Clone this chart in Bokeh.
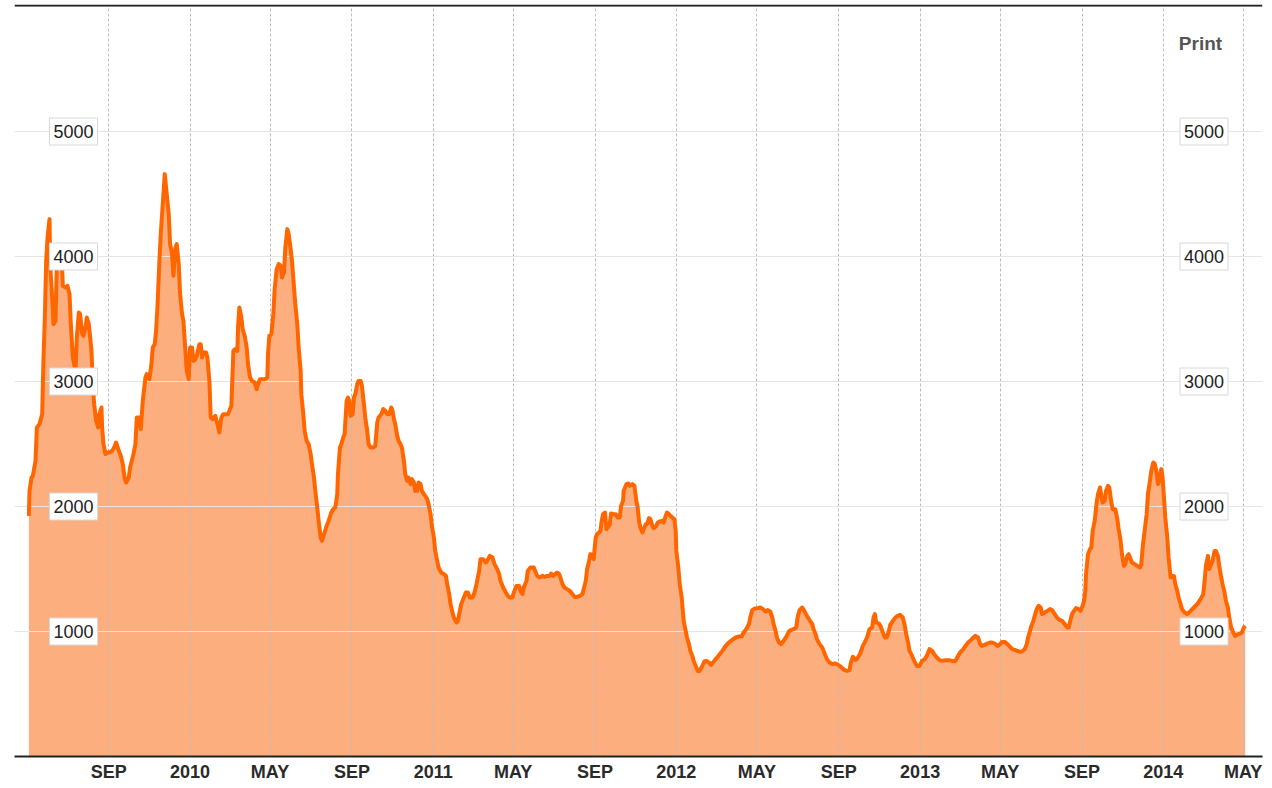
import pandas as pd
from datetime import timedelta
from bokeh.plotting import figure
from bokeh.models import Range1d, FixedTicker, Label, Span
from bokeh.embed import file_html
from bokeh.resources import INLINE

# ---------------- data ----------------
BASE_DATE = "2009-09-01"   # day offsets below count from this date

day_offsets = [
    -120, -119, -116, -114, -110, -108, -104, -100, -99, -98, -96, -94, -92, -89, -88, -85, -83, -80, -78, -75,
    -74, -70, -69, -65, -62, -59, -57, -54, -50, -48, -45, -43, -40, -38, -35, -33, -30, -28, -26, -24,
    -22, -19, -16, -14, -11, -10, -8, -5, -2, 1, 5, 8, 11, 15, 18, 21, 24, 26, 30, 32,
    37, 40, 42, 46, 48, 51, 55, 57, 61, 64, 66, 69, 71, 73, 76, 78, 81, 84, 86, 90,
    92, 95, 97, 100, 102, 105, 107, 110, 112, 115, 117, 120, 122, 125, 127, 130, 132, 136, 138, 140,
    142, 146, 148, 151, 153, 156, 160, 163, 166, 169, 172, 177,
    179, 182, 184, 187, 190, 193, 194, 196, 199, 201, 204, 207, 209, 212, 215, 219, 222, 224, 227, 230,
    234, 238, 239, 241, 244, 247, 249, 252, 255, 258, 260, 263, 265, 268, 270, 273, 275, 278, 280, 283,
    285, 288, 289, 292, 294, 297, 300, 303, 305, 308, 310, 313, 315, 318, 320, 324, 327, 330, 334, 337,
    340, 343, 344, 347, 349, 352, 354, 357, 359, 361, 363, 366, 368, 370, 373, 375, 378, 380, 383, 385,
    388, 390, 393, 397, 400, 403, 405, 409, 412, 415, 418, 421, 424, 426, 428, 430, 433, 435, 438, 440,
    443, 445, 448, 450, 453, 455, 458, 460, 463, 465, 468, 470, 473, 475, 478, 480, 483, 485, 488, 490,
    493, 495,
    499, 503, 506, 508, 511, 513, 516, 518, 522, 524, 527, 529, 532, 536, 539, 542, 546, 549, 552, 556,
    558, 562, 566, 568, 572, 576, 579, 583, 586, 588, 592, 596, 599, 602, 606, 608, 612, 616, 618, 621,
    623, 627, 629, 633, 638, 641, 643, 647, 651, 654, 658, 662, 664, 667, 670, 673, 676, 678, 681, 684,
    688, 692, 696, 699, 703, 707, 711, 713, 716, 718, 721, 723, 726, 728, 729, 731, 733, 736, 738, 740,
    742, 745, 747, 749, 752, 754, 757, 761, 764, 767, 769, 772, 773, 777, 780, 782, 786, 789, 792, 794,
    796, 798, 801, 803, 806, 808, 811, 813, 816, 818, 822, 824, 827, 831, 833, 836, 838, 841, 843, 847,
    849, 851, 852, 855, 857, 860, 863, 866, 868, 871, 873, 876, 878, 881, 884, 887,
    891, 894, 897, 901, 904, 907, 911, 914, 918, 922, 926, 931, 936, 941, 946, 950, 953, 957, 961, 963,
    966, 970, 974, 978, 982, 986, 989, 993, 996, 998, 1001, 1003, 1006, 1009, 1013, 1017, 1021, 1024, 1028, 1032,
    1034, 1037, 1041, 1044, 1048, 1052, 1056, 1058, 1061, 1063, 1067, 1071, 1074, 1078, 1082, 1086, 1090, 1093, 1097, 1101,
    1104, 1108, 1112, 1114, 1117, 1121, 1124, 1128, 1132, 1136, 1139, 1142, 1146, 1148, 1150, 1152, 1156, 1159, 1162, 1165,
    1168, 1171, 1173, 1177, 1181, 1184, 1188, 1192, 1195, 1197, 1200, 1202, 1206, 1209, 1213, 1217, 1221, 1225, 1228, 1232,
    1236, 1239, 1243, 1247, 1251, 1256, 1261, 1266, 1271, 1275, 1278,
    1283, 1286, 1290, 1294, 1298, 1301, 1305, 1308, 1311, 1315, 1319, 1323, 1326, 1330, 1334, 1337, 1341, 1345, 1349, 1353,
    1356, 1360, 1364, 1368, 1371, 1375, 1378, 1380, 1383, 1385, 1388, 1390, 1393, 1396, 1399, 1401, 1405, 1409, 1413, 1416,
    1420, 1424, 1428, 1431, 1435, 1439, 1441, 1444, 1446, 1449, 1452, 1456, 1459, 1461, 1464, 1466,
    1467, 1470, 1473, 1475, 1477, 1480, 1483, 1485, 1488, 1490, 1492, 1495, 1497, 1500, 1502, 1505, 1507, 1511, 1514, 1516,
    1519, 1521, 1524, 1526, 1529, 1531, 1534, 1536, 1540, 1544, 1548, 1550, 1552, 1555, 1558, 1560, 1563, 1565, 1568, 1570,
    1573, 1575, 1577, 1580, 1582, 1584, 1586, 1589, 1591, 1594, 1596, 1599, 1601, 1604, 1606, 1609, 1611, 1615, 1619, 1624,
    1629, 1634, 1639, 1643, 1645, 1647, 1650, 1652, 1655, 1657, 1660, 1662, 1665, 1667, 1670, 1672, 1675, 1677, 1680, 1682,
    1685, 1688, 1691, 1695, 1699, 1701, 1704, 1706,
]

bdi_values = [
    1925, 2125, 2232, 2245, 2365, 2632, 2659, 2739, 2979, 3192, 3512, 3965, 4152, 4299, 3939, 3672, 3459, 3485, 3939, 3939,
    3950, 3900, 3765, 3752, 3765, 3699, 3459, 3192, 3080, 3352, 3552, 3539, 3379, 3365, 3432, 3512, 3459, 3352, 3246, 2979,
    2819, 2686, 2632, 2739, 2792, 2632, 2499, 2419, 2432, 2432, 2446, 2472, 2512, 2446, 2405, 2339, 2219, 2192, 2232, 2312,
    2419, 2499, 2712, 2712, 2619, 2845, 3032, 3059, 3019, 3139, 3272, 3299, 3406, 3592, 3965, 4179, 4419, 4659, 4552, 4339,
    4099, 4019, 3846, 4072, 4099, 3939, 3699, 3539, 3485, 3246, 3085, 3019, 3272, 3272, 3165, 3179, 3205, 3299, 3299, 3192,
    3232, 3232, 3192, 3005, 2712, 2699, 2725, 2659, 2592, 2712, 2739, 2739,
    2739, 2779, 2805, 3245, 3259, 3245, 3432, 3592, 3512, 3419, 3365, 3272, 3139, 3032, 3005, 2992, 2939, 2979, 3019, 3019,
    3019, 3032, 3219, 3365, 3379, 3539, 3739, 3899, 3939, 3925, 3832, 3872, 4072, 4219, 4179, 4059, 3965, 3752, 3619, 3459,
    3272, 3085, 2899, 2739, 2605, 2525, 2499, 2419, 2339, 2232, 2125, 1992, 1885, 1752, 1725, 1792, 1845, 1885, 1952, 1979,
    1992, 2099, 2259, 2472, 2499, 2552, 2579, 2845, 2872, 2845, 2725, 2739, 2872, 2899, 2979, 3005, 3005, 2965, 2819, 2712,
    2605, 2499, 2472, 2472, 2485, 2672, 2712, 2739, 2779, 2765, 2739, 2739, 2792, 2765, 2699, 2659, 2565, 2525, 2499, 2472,
    2365, 2259, 2205, 2232, 2179, 2219, 2192, 2125, 2125, 2192, 2179, 2125, 2099, 2085, 2059, 2019, 1939, 1845, 1752, 1645,
    1565, 1512,
    1472, 1459, 1445, 1379, 1299, 1219, 1152, 1112, 1072, 1085, 1165, 1219, 1259, 1312, 1312, 1272, 1272, 1312, 1379, 1485,
    1579, 1579, 1552, 1565, 1605, 1592, 1539, 1499, 1459, 1405, 1352, 1312, 1285, 1272, 1272, 1312, 1365, 1365, 1325, 1299,
    1352, 1405, 1485, 1512, 1512, 1472, 1445, 1432, 1445, 1437, 1445, 1445, 1464, 1445, 1459, 1472, 1459, 1432, 1379, 1352,
    1339, 1325, 1299, 1277, 1277, 1285, 1299, 1339, 1405, 1499, 1565, 1619, 1605, 1579, 1645, 1752, 1779, 1792, 1805, 1885,
    1939, 1952, 1819, 1832, 1859, 1944, 1939, 1939, 1912, 1912, 2005, 2045, 2125, 2179, 2184, 2165, 2179, 2165, 2045, 1992,
    1885, 1832, 1792, 1819, 1859, 1859, 1907, 1899, 1845, 1827, 1845, 1872, 1880, 1885, 1872, 1925, 1952, 1939, 1925, 1907,
    1899, 1805, 1645, 1512, 1379, 1272, 1085, 1005, 952, 899, 845, 805, 765, 725, 685, 685,
    725, 760, 765, 752, 733, 752, 779, 797, 824, 851, 885, 912, 933, 952, 960, 960, 992, 1019, 1059, 1112,
    1171, 1184, 1187, 1192, 1179, 1160, 1171, 1160, 1112, 1059, 1005, 952, 912, 899, 925, 957, 1000, 1011, 1019, 1032,
    1112, 1171, 1192, 1165, 1125, 1091, 1059, 1019, 979, 939, 899, 872, 832, 779, 752, 739, 744, 739, 725, 707,
    693, 685, 691, 752, 797, 773, 787, 824, 885, 925, 965, 1019, 1032, 1112, 1139, 1072, 1064, 1037, 992, 952,
    952, 1005, 1051, 1085, 1112, 1125, 1133, 1112, 1045, 979, 912, 845, 805, 765, 725, 725, 765, 779, 805, 859,
    845, 819, 792, 771, 765, 771, 771, 765, 765, 805, 832,
    859, 885, 912, 931, 952, 965, 952, 899, 885, 893, 904, 912, 912, 904, 885, 893, 917, 917, 899, 877,
    859, 853, 845, 837, 840, 859, 899, 952, 1005, 1045, 1085, 1125, 1179, 1205, 1192, 1139, 1152, 1165, 1179, 1171,
    1139, 1107, 1091, 1085, 1059, 1032, 1032, 1099, 1139, 1165, 1187, 1179, 1165, 1192, 1245, 1325,
    1459, 1619, 1659, 1672, 1805, 1885, 2032, 2099, 2152, 2085, 2032, 2045, 2125, 2165, 2152, 2032, 1979, 1979, 1899, 1819,
    1725, 1619, 1525, 1539, 1605, 1619, 1579, 1552, 1539, 1525, 1512, 1539, 1672, 1805, 1939, 2099, 2205, 2285, 2352, 2344,
    2272, 2179, 2205, 2299, 2232, 2072, 1912, 1752, 1592, 1432, 1445, 1445, 1379, 1325, 1272, 1219, 1179, 1152, 1139, 1165,
    1192, 1219, 1259, 1299, 1405, 1525, 1605, 1499, 1539, 1565, 1645, 1645, 1605, 1525, 1432, 1379, 1312, 1245, 1192, 1112,
    1032, 992, 965, 979, 984, 992, 1032, 1045,
]

tick_dates = ["2009-09-01", "2010-01-01", "2010-05-01", "2010-09-01", "2011-01-01", "2011-05-01",
              "2011-09-01", "2012-01-01", "2012-05-01", "2012-09-01", "2013-01-01", "2013-05-01",
              "2013-09-01", "2014-01-01", "2014-05-01"]
tick_labels = ["SEP", "2010", "MAY", "SEP", "2011", "MAY", "SEP", "2012", "MAY", "SEP", "2013", "MAY",
               "SEP", "2014", "MAY"]
y_grid_values = [1000, 2000, 3000, 4000, 5000]
y_grid_labels = ["1000", "2000", "3000", "4000", "5000"]
corner_text = "Print"

# ---------------- layout ----------------
base = pd.Timestamp(BASE_DATE)
dates = base + pd.to_timedelta(day_offsets, unit="D")

FRAME_W, FRAME_H = 1248, 752
PX_PER_DAY = 0.66613
X0_DAYS = -94.3 / PX_PER_DAY          # frame's left edge, in days from BASE_DATE
UNITS_PER_PX = 8.0                    # 1000 units = 125 px
Y_END = FRAME_H * UNITS_PER_PX


def xpos(px):
    return base + timedelta(days=X0_DAYS + px / PX_PER_DAY)


def ms(d):
    return float(pd.Timestamp(d).value // 10**6)


FONT = "Liberation Sans"
ORANGE = "#FF6600"
FILL = "#FDAE7E"
GRID = "#bcbcbc"

p = figure(frame_width=FRAME_W, frame_height=FRAME_H,
           x_axis_type="datetime", y_axis_location=None,
           x_range=Range1d(xpos(0), xpos(FRAME_W)), y_range=Range1d(0, Y_END),
           toolbar_location=None, output_backend="svg",
           min_border_left=14, min_border_right=2, min_border_top=4, min_border_bottom=0,
           outline_line_color=None, background_fill_color="white", border_fill_color="white")

# area fill (lowest level, grid drawn over it)
p.varea(x=dates, y1=0, y2=bdi_values, fill_color=FILL, level="image")

# vertical grid
tick_ms = [ms(d) for d in tick_dates]
p.xgrid.ticker = FixedTicker(ticks=tick_ms)
p.xgrid.grid_line_color = GRID
p.xgrid.grid_line_dash = "3 2"
p.xgrid.grid_line_width = 1

# horizontal grid (spans a bit less than the frame)
p.segment(x0=[xpos(16)] * len(y_grid_values), x1=[xpos(1234)] * len(y_grid_values),
          y0=y_grid_values, y1=y_grid_values, line_color=GRID, line_dash="3 2",
          line_width=1, level="underlay")

# series line
p.line(dates, bdi_values, line_color=ORANGE, line_width=4, line_join="round")

# x axis
ax = p.xaxis[0]
ax.ticker = FixedTicker(ticks=tick_ms)
ax.major_label_overrides = {t: lab for t, lab in zip(tick_ms, tick_labels)}
ax.axis_line_color = "#222222"
ax.axis_line_width = 2
ax.major_tick_line_color = None
ax.minor_tick_line_color = None
ax.major_tick_out = 0
ax.major_tick_in = 0
ax.minor_tick_out = 0
ax.major_label_standoff = 5
ax.major_label_text_font = FONT
ax.major_label_text_font_style = "bold"
ax.major_label_text_font_size = "18px"
ax.major_label_text_color = "#2a2a2a"

# top rule (just inside the frame's top edge)
p.add_layout(Span(location=Y_END - 1 * UNITS_PER_PX, dimension="width",
                  line_color="#222222", line_width=2))

# boxed value labels on both sides
for v, lab in zip(y_grid_values, y_grid_labels):
    for cx in (59, 1189.5):
        p.add_layout(Label(x=xpos(cx), y=v, text=lab, text_align="center", text_baseline="middle",
                           text_font=FONT, text_font_size="18px", text_color="#222222",
                           background_fill_color="white", border_line_color="#d8d8d8",
                           border_line_width=1, padding=(4, 7)))

p.add_layout(Label(x=xpos(1186), y=(FRAME_H - 39) * UNITS_PER_PX, text=corner_text, text_align="center",
                   text_baseline="middle", text_font=FONT, text_font_style="bold",
                   text_font_size="19px", text_color="#555555"))

open("out.html", "w").write(file_html(p, INLINE))
